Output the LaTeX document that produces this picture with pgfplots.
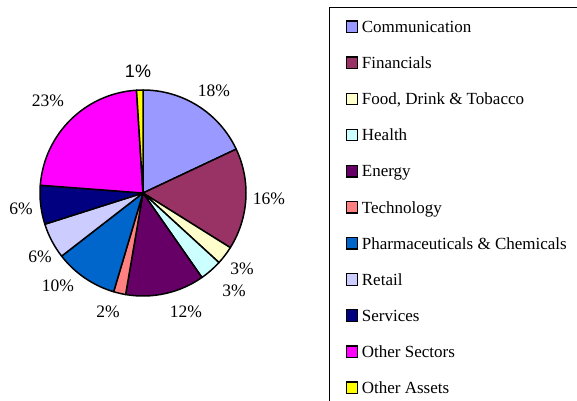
\documentclass[border=0pt]{standalone}
\usepackage{pgfplots}
\pgfplotsset{compat=1.18}
\usepackage{pgfplotstable}
\usepackage{fontspec}
\setmainfont{Liberation Serif}
\newfontfamily\arialfont{Liberation Sans}
\definecolor{c0}{HTML}{9999FF}
\definecolor{c1}{HTML}{993366}
\definecolor{c2}{HTML}{FFFFCC}
\definecolor{c3}{HTML}{CCFFFF}
\definecolor{c4}{HTML}{660066}
\definecolor{c5}{HTML}{FF8080}
\definecolor{c6}{HTML}{0066CC}
\definecolor{c7}{HTML}{CCCCFF}
\definecolor{c8}{HTML}{000080}
\definecolor{c9}{HTML}{FF00FF}
\definecolor{c10}{HTML}{FFFF00}
\pgfplotstableread{
idx value
0 18.0
1 15.9
2 2.9
3 3.5
4 12.4
5 1.9
6 9.9
7 5.6
8 6.1
9 22.8
10 1.0
}\piedata
\tikzset{lbl/.style={inner sep=0pt, font=\fontsize{17.5bp}{20bp}\selectfont}}
\begin{document}
\begin{tikzpicture}
\def\cum{0}
\pgfplotsforeachungrouped \i in {0,...,10}{%
  \pgfplotstablegetelem{\i}{value}\of\piedata
  \pgfmathsetmacro\sa{90-3.6*\cum}%
  \pgfmathsetmacro\cum{\cum+\pgfplotsretval}%
  \pgfmathsetmacro\ea{90-3.6*\cum}%
  \expandafter\xdef\csname sa\i\endcsname{\sa}%
  \expandafter\xdef\csname ea\i\endcsname{\ea}%
}
\begin{axis}[
  hide axis, scale only axis, clip=false,
  x=1bp, y=1bp,
  xmin=-143, xmax=434, ymin=-207, ymax=193,
  legend cell align=left,
  legend image code/.code={\draw[#1, draw=black, line width=1.3bp] (0bp,-4.5bp) rectangle (11.5bp,7bp);},
  legend style={at={(axis cs:202.4,173.7)}, anchor=north west, draw=none, fill=none,
    inner sep=0pt, font=\fontsize{17bp}{20bp}\selectfont, row sep=19.1bp,
    nodes={inner sep=0pt, text height=13bp, text depth=4bp},
    /tikz/every odd column/.append style={column sep=3.5bp}},
]
\coordinate (bl) at (axis cs:-143,-207);
\coordinate (tr) at (axis cs:434,193);
\pgfplotsinvokeforeach{0,...,10}{%
  \fill[fill=c#1, draw=black, line width=1.5bp, line join=round]
    (axis cs:0,0) -- (axis cs:{103*cos(\csname sa#1\endcsname)},{103*sin(\csname sa#1\endcsname)})
    arc[start angle=\csname sa#1\endcsname, end angle=\csname ea#1\endcsname, radius=103bp] -- cycle;
}
\draw[line width=1bp] (axis cs:186.3,-230) -- (axis cs:186.3,185.7) -- (axis cs:450,185.7);
\addlegendimage{fill=c0}
\addlegendimage{fill=c1}
\addlegendimage{fill=c2}
\addlegendimage{fill=c3}
\addlegendimage{fill=c4}
\addlegendimage{fill=c5}
\addlegendimage{fill=c6}
\addlegendimage{fill=c7}
\addlegendimage{fill=c8}
\addlegendimage{fill=c9}
\addlegendimage{fill=c10}
\legend{Communication, Financials, {Food, Drink \& Tobacco}, Health, Energy, Technology,
  Pharmaceuticals \& Chemicals, Retail, Services, Other Sectors, Other Assets}
\node[lbl] at (axis cs:71,102) {18\%};
\node[lbl] at (axis cs:126,-6) {16\%};
\node[lbl] at (axis cs:99,-76) {3\%};
\node[lbl] at (axis cs:91,-98) {3\%};
\node[lbl] at (axis cs:43,-119) {12\%};
\node[lbl] at (axis cs:-35,-119) {2\%};
\node[lbl] at (axis cs:-85,-93) {10\%};
\node[lbl] at (axis cs:-103,-64) {6\%};
\node[lbl] at (axis cs:-122,-16) {6\%};
\node[lbl] at (axis cs:-95,92) {23\%};
\node[inner sep=0pt, font=\arialfont\fontsize{18bp}{20bp}\selectfont] at (axis cs:-5,122) {1\%};
\end{axis}
\pgfresetboundingbox
\path (bl) rectangle (tr);
\end{tikzpicture}
\end{document}
